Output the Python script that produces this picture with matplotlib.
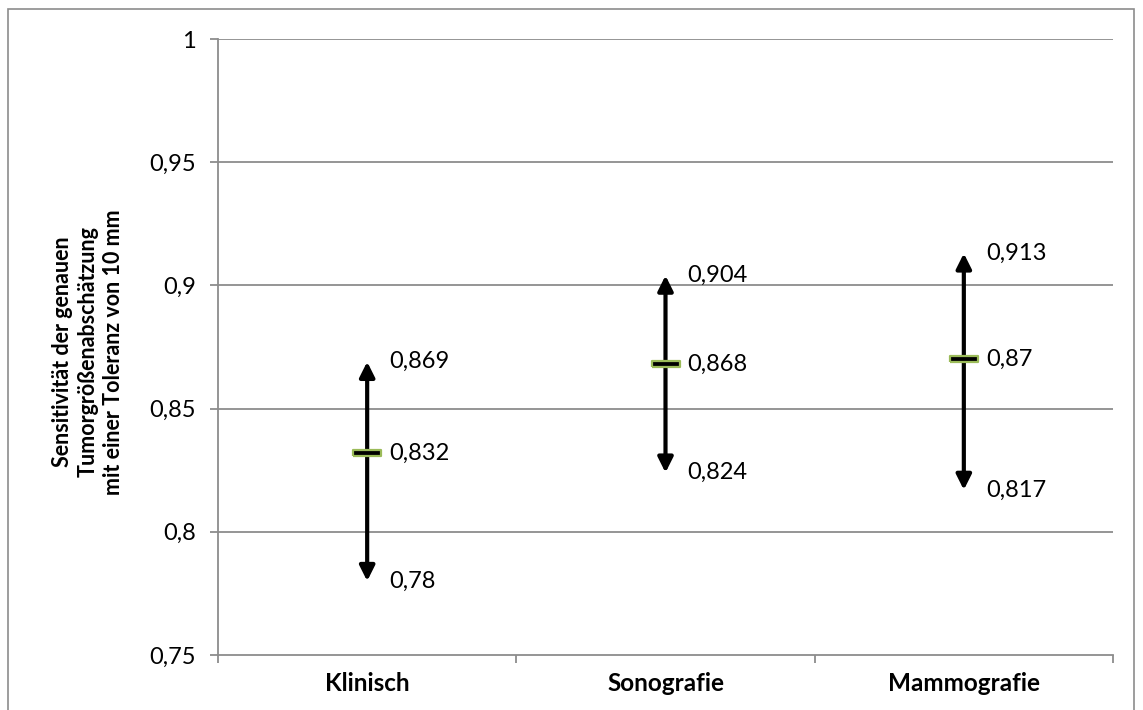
import matplotlib
matplotlib.use("Agg")
import matplotlib.pyplot as plt
from matplotlib.patches import Rectangle

categories = ["Klinisch", "Sonografie", "Mammografie"]
mean_vals = [0.832, 0.868, 0.87]
lower_vals = [0.78, 0.824, 0.817]
upper_vals = [0.869, 0.904, 0.913]

y_ticks = [0.75, 0.8, 0.85, 0.9, 0.95, 1.0]
y_label = "Sensitivität der genauen\nTumorgrößenabschätzung\nmit einer Toleranz von 10 mm"

GRID = "#8c8c8c"
EDGE_GREEN = "#9bbb59"


def de_num(v):
    s = f"{v:.3f}".rstrip("0").rstrip(".")
    return s.replace(".", ",")


plt.rcParams["font.family"] = ["Lato", "DejaVu Sans"]

fig = plt.figure(figsize=(11.43, 7.10), dpi=100)
ax = fig.add_axes([218 / 1143, 1 - 655 / 710, (1113 - 218) / 1143, (655 - 39) / 710])

# outer chart border
fig.patches.append(Rectangle((8 / 1143, -0.05), (1134 - 8) / 1143, 1 - 9 / 710 + 0.05,
                             transform=fig.transFigure, fill=False,
                             edgecolor=GRID, lw=1.2))

ax.set_xlim(-0.5, 2.5)
ax.set_ylim(0.75, 1.0)

for y in y_ticks[1:]:
    ax.axhline(y, color=GRID, lw=1.3, zorder=1)

arrow = dict(arrowstyle="-|>,head_length=0.9,head_width=0.45",
             color="black", lw=3, shrinkA=0, shrinkB=0)
for i, cat in enumerate(categories):
    ax.annotate("", xy=(i, upper_vals[i]), xytext=(i, mean_vals[i]),
                arrowprops=arrow, zorder=3)
    ax.annotate("", xy=(i, lower_vals[i]), xytext=(i, mean_vals[i]),
                arrowprops=arrow, zorder=3)
    ax.plot([i], [mean_vals[i]], linestyle="none",
            marker=[(-1, -0.25), (1, -0.25), (1, 0.25), (-1, 0.25), (-1, -0.25)],
            markersize=20, markerfacecolor="black", markeredgecolor=EDGE_GREEN,
            markeredgewidth=1.6, zorder=4)
    for v in (upper_vals[i], mean_vals[i], lower_vals[i]):
        ax.annotate(de_num(v), xy=(i, v), xytext=(16, 0), textcoords="offset points",
                    ha="left", va="center", fontsize=17)

# axes styling
for side in ("top", "right"):
    ax.spines[side].set_visible(False)
for side in ("left", "bottom"):
    ax.spines[side].set_color(GRID)
    ax.spines[side].set_linewidth(1.3)

ax.set_yticks(y_ticks)
ax.set_yticklabels([de_num(v) for v in y_ticks], fontsize=17)
ax.tick_params(axis="y", length=6, width=1.3, color=GRID, pad=10)

ax.set_xticks([-0.5, 0.5, 1.5, 2.5])
ax.set_xticklabels([])
ax.tick_params(axis="x", which="major", length=6, width=1.3, color=GRID)
ax.set_xticks([0, 1, 2], minor=True)
ax.set_xticklabels(categories, minor=True, fontsize=17.5, fontweight="bold")
ax.tick_params(axis="x", which="minor", length=0, pad=12)

fig.text(88 / 1143, 1 - 352 / 710, y_label, rotation=90, ha="center", va="center",
         multialignment="center", fontsize=15.5, fontweight="bold", linespacing=1.25)

fig.savefig("out.png", dpi=100)
